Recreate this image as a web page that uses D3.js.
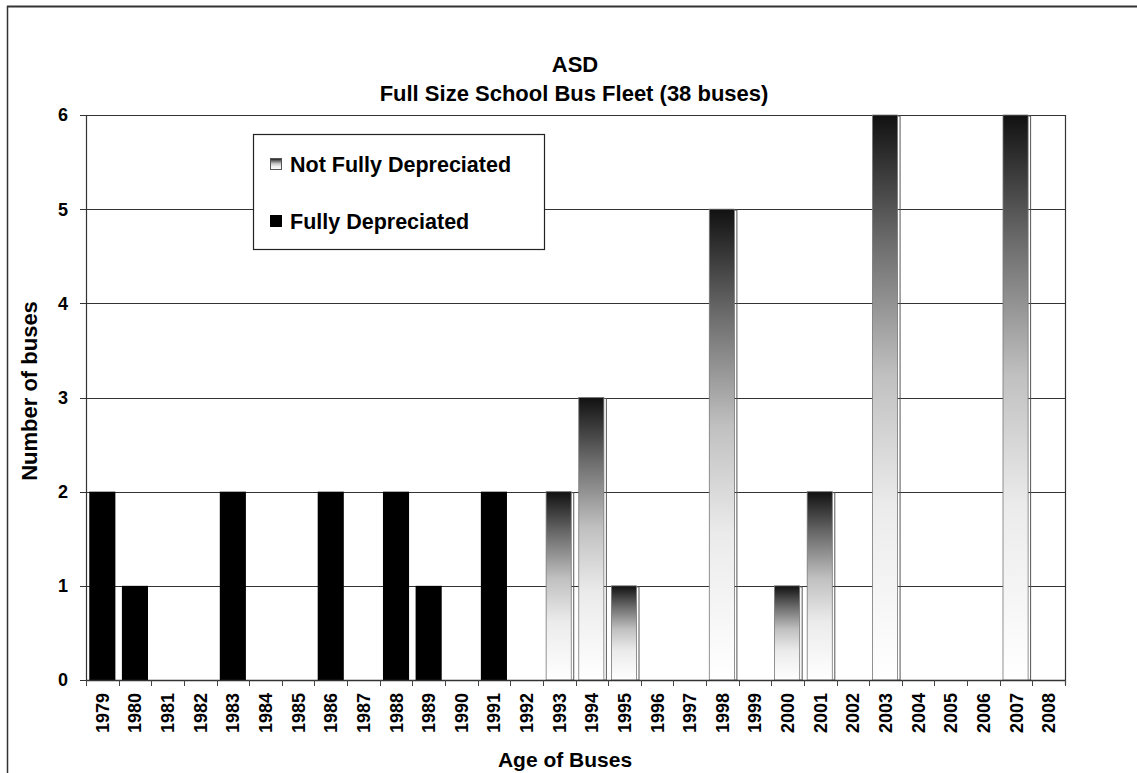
<!DOCTYPE html>
<html>
<head>
<meta charset="utf-8">
<script src="https://cdn.jsdelivr.net/npm/d3@7"></script>
<style>
  body { margin: 0; background: #fff; }
  text { font-family: "Liberation Sans", Arial, sans-serif; font-weight: bold; fill: #000; }
</style>
</head>
<body>
<div id="chart"></div>
<script>
var years = ["1979","1980","1981","1982","1983","1984","1985","1986","1987","1988",
    "1989","1990","1991","1992","1993","1994","1995","1996","1997","1998",
    "1999","2000","2001","2002","2003","2004","2005","2006","2007","2008"];
var fullyDepreciated = [2,1,0,0,2,0,0,2,0,2,1,0,2,0,0,0,0,0,0,0,0,0,0,0,0,0,0,0,0,0];
var notFullyDepreciated = [0,0,0,0,0,0,0,0,0,0,0,0,0,0,2,3,1,0,0,5,0,1,2,0,6,0,0,0,6,0];
var yTicks = [0,1,2,3,4,5,6];

function drawChart() {
    var width = 1137, height = 773;
    var left = 86, right = 1065, top = 115, bottom = 680;

    var svg = d3.select("#chart")
        .append("svg")
        .attr("width", width)
        .attr("height", height);

    // gradient used by the not fully depreciated bars: dark top, white bottom
    var grad = svg.append("defs")
        .append("linearGradient")
        .attr("id", "fade")
        .attr("x1", 0).attr("y1", 0)
        .attr("x2", 0).attr("y2", 1);
    [[0, "#111"], [0.22, "#6a6a6a"], [0.46, "#c0c0c0"], [0.69, "#ebebeb"], [1, "#fff"]]
        .forEach(function(s) {
            grad.append("stop").attr("offset", s[0]).attr("stop-color", s[1]);
        });

    // page frame
    svg.append("line").attr("x1", 7).attr("x2", width).attr("y1", 6.5).attr("y2", 6.5)
        .attr("stroke", "#333").attr("stroke-width", 2);
    svg.append("line").attr("x1", 7.5).attr("x2", 7.5).attr("y1", 6).attr("y2", height)
        .attr("stroke", "#333").attr("stroke-width", 1.5);

    var x = d3.scaleBand()
        .domain(years)
        .range([left, right])
        .paddingInner(0.2)
        .paddingOuter(0.1);

    var y = d3.scaleLinear()
        .domain([0, 6])
        .range([bottom, top]);

    // grid lines
    svg.selectAll(".grid")
        .data(yTicks)
        .join("line")
        .attr("class", "grid")
        .attr("x1", left - 6).attr("x2", right)
        .attr("y1", function(d) { return Math.round(y(d)) + 0.5; })
        .attr("y2", function(d) { return Math.round(y(d)) + 0.5; })
        .attr("stroke", "#333")
        .attr("stroke-width", 1.2);

    svg.append("line")
        .attr("x1", right + 0.5).attr("x2", right + 0.5)
        .attr("y1", top).attr("y2", bottom + 5)
        .attr("stroke", "#333").attr("stroke-width", 1.2);

    var fully = years.map(function(d, i) { return {year: d, value: fullyDepreciated[i]}; })
        .filter(function(d) { return d.value > 0; });
    var notFully = years.map(function(d, i) { return {year: d, value: notFullyDepreciated[i]}; })
        .filter(function(d) { return d.value > 0; });

    svg.selectAll(".fully")
        .data(fully)
        .join("rect")
        .attr("class", "fully")
        .attr("x", function(d) { return x(d.year); })
        .attr("y", function(d) { return y(d.value); })
        .attr("width", x.bandwidth())
        .attr("height", function(d) { return y(0) - y(d.value); })
        .attr("fill", "#000");

    // offset outline that sits next to the gradient bars
    svg.selectAll(".notfully-edge")
        .data(notFully)
        .join("rect")
        .attr("class", "notfully-edge")
        .attr("x", function(d) { return x(d.year) + 1.5; })
        .attr("y", function(d) { return y(d.value) + 1; })
        .attr("width", x.bandwidth())
        .attr("height", function(d) { return y(0) - y(d.value) - 1; })
        .attr("fill", "none")
        .attr("stroke", "#555")
        .attr("stroke-width", 1);

    svg.selectAll(".notfully")
        .data(notFully)
        .join("rect")
        .attr("class", "notfully")
        .attr("x", function(d) { return x(d.year); })
        .attr("y", function(d) { return y(d.value); })
        .attr("width", x.bandwidth() - 1)
        .attr("height", function(d) { return y(0) - y(d.value); })
        .attr("fill", "url(#fade)")
        .attr("stroke", "#777")
        .attr("stroke-width", 0.8);

    // axes lines
    svg.append("line")
        .attr("x1", left + 0.5).attr("x2", left + 0.5)
        .attr("y1", top).attr("y2", bottom)
        .attr("stroke", "#333").attr("stroke-width", 1.2);
    svg.append("line")
        .attr("x1", left).attr("x2", right)
        .attr("y1", bottom + 0.5).attr("y2", bottom + 0.5)
        .attr("stroke", "#333").attr("stroke-width", 1.5);

    // x ticks between categories
    var edges = years.map(function(d) { return x(d) - x.step() * x.paddingOuter(); });
    edges.push(right);
    svg.selectAll(".xtick")
        .data(edges)
        .join("line")
        .attr("class", "xtick")
        .attr("x1", function(d) { return Math.round(d) + 0.5; })
        .attr("x2", function(d) { return Math.round(d) + 0.5; })
        .attr("y1", bottom).attr("y2", bottom + 6)
        .attr("stroke", "#444");

    svg.selectAll(".ylabel")
        .data(yTicks)
        .join("text")
        .attr("class", "ylabel")
        .attr("x", 68)
        .attr("y", function(d) { return y(d); })
        .attr("dy", "0.36em")
        .attr("text-anchor", "end")
        .attr("font-size", "18px")
        .text(function(d) { return d; });

    svg.selectAll(".xlabel")
        .data(years)
        .join("text")
        .attr("class", "xlabel")
        .attr("transform", function(d) {
            return "translate(" + (x(d) + x.bandwidth() / 2) + "," + (bottom + 13) + ") rotate(-90)";
        })
        .attr("dy", "0.36em")
        .attr("text-anchor", "end")
        .attr("font-size", "18px")
        .text(function(d) { return d; });

    // titles
    svg.append("text").attr("x", 575).attr("y", 72).attr("text-anchor", "middle")
        .attr("font-size", "22px").text("ASD");
    svg.append("text").attr("x", 574).attr("y", 101).attr("text-anchor", "middle")
        .attr("font-size", "22px").text("Full Size School Bus Fleet (38 buses)");
    svg.append("text").attr("x", 565).attr("y", 767).attr("text-anchor", "middle")
        .attr("font-size", "21px").text("Age of Buses");
    svg.append("text")
        .attr("transform", "translate(37,391) rotate(-90)")
        .attr("text-anchor", "middle")
        .attr("font-size", "22px")
        .text("Number of buses");

    // legend
    var legend = svg.append("g").attr("transform", "translate(253,134)");
    legend.append("rect")
        .attr("x", 0.5).attr("y", 0.5)
        .attr("width", 291).attr("height", 115)
        .attr("fill", "#fff")
        .attr("stroke", "#222")
        .attr("stroke-width", 1.2);
    legend.append("rect")
        .attr("x", 17.5).attr("y", 24.5).attr("width", 11).attr("height", 11)
        .attr("fill", "url(#fade)").attr("stroke", "#555");
    legend.append("text")
        .attr("x", 37).attr("y", 38)
        .attr("font-size", "21.5px")
        .text("Not Fully Depreciated");
    legend.append("rect")
        .attr("x", 17).attr("y", 81).attr("width", 12).attr("height", 12)
        .attr("fill", "#000");
    legend.append("text")
        .attr("x", 37).attr("y", 95)
        .attr("font-size", "21.5px")
        .text("Fully Depreciated");
}

drawChart();
</script>
</body>
</html>
